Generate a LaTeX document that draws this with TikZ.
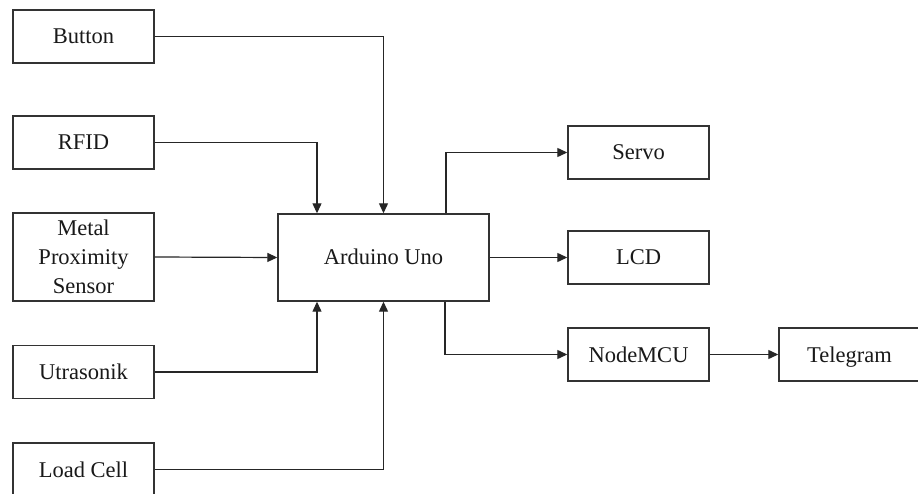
\documentclass[tikz,border=0pt]{standalone}
\usepackage{fontspec}
\setmainfont{Liberation Serif}
\usetikzlibrary{arrows.meta,calc}
\begin{document}
\begin{tikzpicture}[x=1pt,y=-1pt,
  blk/.style={draw=black!80,line width=1.4pt,fill=white,minimum width=141pt,minimum height=53pt,
    inner sep=0pt,align=center,font=\fontsize{22.5}{29}\selectfont,text=black!90},
  one/.style={text height=15pt,text depth=0pt},
  arr/.style={draw=black!85,line width=1.2pt,-{Triangle[length=10pt,width=9pt]}}]
\useasboundingbox (0,0) rectangle (918,494);
\fill[white] (0,0) rectangle (918,494);
\node[blk,one] (btn) at (83.5,36.5) {Button};
\node[blk,one] (rfid) at (83.5,142.5) {RFID};
\node[blk,minimum height=88pt] (metal) at (83.5,257) {Metal\\Proximity\\Sensor};
\node[blk,one] (ultra) at (83.5,372) {Utrasonik};
\node[blk,one] (load) at (83.5,469.5) {Load Cell};
\node[blk,one,minimum width=211pt,minimum height=87pt] (ard) at (383.5,257.5) {Arduino Uno};
\node[blk,one] (servo) at (638.5,152.5) {Servo};
\node[blk,one] (lcd) at (638.5,257.5) {LCD};
\node[blk,one] (nmcu) at (638.5,354.5) {NodeMCU};
\node[blk,one] (tele) at (849.5,354.5) {Telegram};
\draw[arr] (btn.east) -| (ard.north);
\draw[arr] (rfid.east) -| ([xshift=-66.5pt]ard.north);
\draw[arr] (metal.east) -- (ard.west);
\draw[arr] (ultra.east) -| ([xshift=-66.5pt]ard.south);
\draw[arr] (load.east) -| (ard.south);
\draw[arr] ([xshift=62.5pt]ard.north) |- (servo.west);
\draw[arr] (ard.east) -- (lcd.west);
\draw[arr] ([xshift=61.5pt]ard.south) |- (nmcu.west);
\draw[arr] (nmcu.east) -- (tele.west);
\end{tikzpicture}
\end{document}
